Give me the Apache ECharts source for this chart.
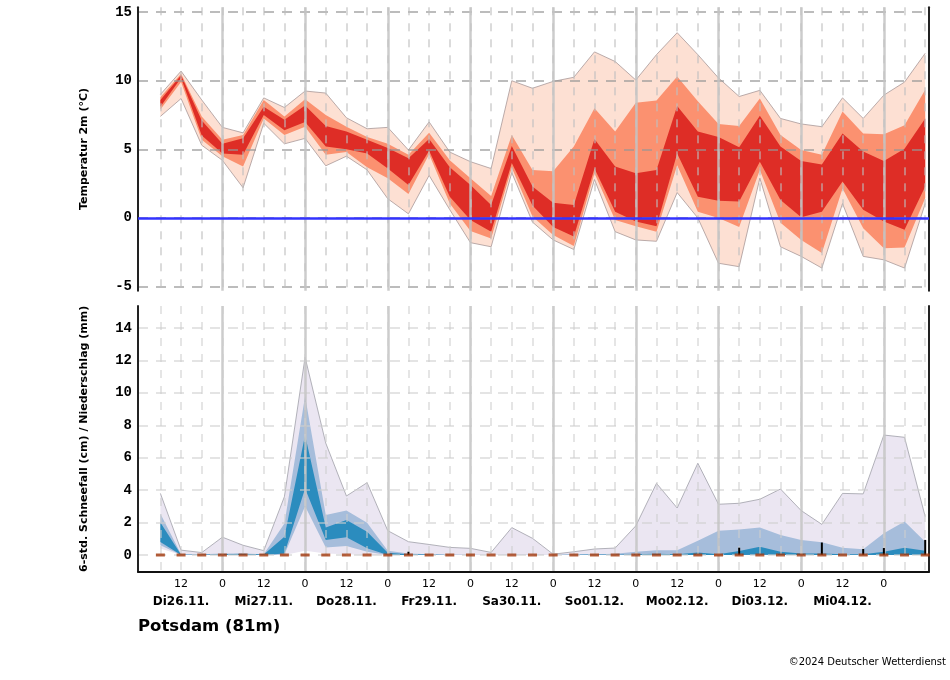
<!DOCTYPE html>
<html><head><meta charset="utf-8">
<script src="https://cdn.jsdelivr.net/npm/echarts@6/dist/echarts.min.js"></script>
<style>html,body{margin:0;padding:0;background:#fff}#c{width:950px;height:680px}</style>
</head><body><div id="c"></div>
<script>
// time steps (hours after Di26.11. 00 UTC)
const hours = [6,12,18,24,30,36,42,48,54,60,66,72,78,84,90,96,102,108,114,120,126,132,138,144,150,156,162,168,174,180,186,192,198,204,210,216,222,228];
const dayLabels = ['Di26.11.','Mi27.11.','Do28.11.','Fr29.11.','Sa30.11.','So01.12.','Mo02.12.','Di03.12.','Mi04.12.'];
const hourLabelValues = [12,24,36,48,60,72,84,96,108,120,132,144,156,168,180,192,204,216];
const dayLineValues = [24,48,72,96,120,144,168,192,216];
const tempTicks = [-5,0,5,10,15];
const precTicks = [0,2,4,6,8,10,12,14];

// temperature 2m ensemble quantiles (°C)
const tMin = [7.4,8.7,5.3,4.2,2.2,6.9,5.4,5.8,3.8,4.5,3.5,1.4,0.3,3.1,0.6,-1.8,-2.1,3.3,-0.3,-1.6,-2.3,2.8,-1.0,-1.6,-1.7,1.85,0.0,-3.3,-3.55,2.9,-2.1,-2.8,-3.65,1.05,-2.8,-3.05,-3.65,1.05];
const tQ10 = [7.9,9.9,5.7,4.5,3.75,7.25,6.05,6.65,4.6,4.8,3.7,2.9,1.75,4.65,1.05,-0.95,-1.5,3.65,0.1,-1.25,-2.05,3.25,-0.15,-0.6,-1.0,3.85,0.45,0.0,-0.65,3.5,-0.35,-1.6,-2.55,2.15,-0.75,-2.2,-2.15,1.45];
const tQ25 = [8.1,10.2,6.0,4.7,4.6,7.5,6.4,7.0,5.2,5.0,4.7,3.6,2.4,4.9,1.55,-0.15,-1.0,4.0,0.9,-0.65,-1.35,3.6,0.45,-0.25,-0.6,4.7,1.55,1.25,1.2,4.1,1.3,0.05,0.45,2.65,0.6,-0.25,-0.85,2.3];
const tQ75 = [8.6,10.4,7.1,5.4,5.8,8.1,7.15,8.2,6.7,6.3,5.7,5.1,4.35,5.75,3.7,2.4,0.95,5.25,2.3,1.1,0.95,5.75,3.75,3.25,3.5,8.15,6.3,5.9,5.15,7.45,5.2,4.15,3.9,6.15,4.85,4.15,5.05,7.25];
const tQ90 = [8.8,10.5,7.4,5.7,6.05,8.6,7.4,8.65,7.5,6.65,5.9,5.4,4.6,6.2,4.2,2.9,1.6,6.05,3.5,3.4,5.2,8.0,6.3,8.4,8.55,10.3,8.5,6.85,6.7,8.7,6.05,4.95,4.6,7.75,6.15,6.1,6.75,9.35];
const tMax = [9.0,10.7,8.6,6.6,6.2,8.75,8.05,9.25,9.1,7.3,6.5,6.6,4.95,7.0,4.8,4.1,3.6,10.0,9.45,9.95,10.25,12.1,11.4,10.05,11.9,13.5,11.9,10.2,8.85,9.3,7.25,6.85,6.65,8.75,7.25,8.95,9.9,12.0];

// 6-hourly precipitation ensemble quantiles (mm)
const pMin = [0.4,0,0,0,0,0,0,0.27,0.1,0.05,0,0,0,0,0,0,0,0,0,0,0,0,0,0,0,0,0,0,0,0,0,0,0,0,0,0,0,0];
const pQ10 = [0.6,0,0,0,0,0,0.03,3.0,0.47,0.56,0.2,0,0,0,0,0,0,0,0,0,0,0,0,0,0,0,0,0,0,0,0,0,0,0,0,0,0,0];
const pQ25 = [0.8,0,0,0,0,0,0.1,4.1,0.93,1.09,0.41,0,0,0,0,0,0,0,0,0,0,0,0,0,0,0,0,0,0,0.02,0,0,0,0,0,0,0,0];
const pQ75 = [2.0,0.02,0.02,0.05,0.07,0.03,1.13,7.4,1.7,2.16,1.44,0.14,0.05,0.03,0,0,0,0,0,0,0.02,0.03,0.02,0.05,0.07,0.05,0.15,0.05,0.25,0.51,0.2,0.1,0.1,0.05,0.05,0.2,0.45,0.27];
const pQ90 = [2.55,0.05,0.05,0.1,0.1,0.05,1.95,9.8,2.47,2.74,1.99,0.27,0.1,0.05,0.03,0.02,0,0.02,0.02,0,0.05,0.05,0.08,0.2,0.3,0.3,0.88,1.5,1.58,1.69,1.23,0.93,0.78,0.45,0.35,1.34,2.06,0.82];
const pMax = [3.8,0.3,0.15,1.1,0.6,0.27,3.6,12.2,6.9,3.64,4.46,1.5,0.82,0.65,0.47,0.41,0.16,1.69,1.03,0.05,0.2,0.37,0.43,1.8,4.42,2.9,5.66,3.13,3.19,3.44,4.07,2.74,1.89,3.8,3.77,7.4,7.26,2.37];
// 6-hourly snowfall (cm): maximum (black bars) and median (brown dashes)
const snowMax = [0,0,0,0,0,0,0,0,0,0,0,0,0.2,0,0,0,0,0,0,0,0,0,0,0,0,0,0,0,0.45,0,0,0,0.77,0,0.37,0.43,0,0.93];
const snowMed = [0,0,0,0,0,0,0,0,0,0,0,0,0,0,0,0,0,0,0,0,0,0,0,0,0,0,0,0,0,0,0,0,0,0,0,0,0,0];

const X_MIN = -0.5, X_MAX = 229.1;
const FONT = 'DejaVu Sans';

function pairs(arr){ return hours.map((h,i)=>[h, arr[i]]); }

// filled band between two quantile arrays, projected through the axes
function band(xi, yi, lo, hi, color){
  return {
    type:'custom', xAxisIndex:xi, yAxisIndex:yi, silent:true, z:2, clip:true,
    data: hours.map((h,i)=>[h, lo[i], hi[i]]),
    encode:{x:0, y:[1,2]},
    renderItem: function(params, api){
      if (params.dataIndex !== 0) return null;
      const pts = [];
      for (let i=0;i<hours.length;i++) pts.push(api.coord([hours[i], hi[i]]));
      for (let i=hours.length-1;i>=0;i--) pts.push(api.coord([hours[i], lo[i]]));
      return {type:'polygon', shape:{points:pts}, style:{fill:color, stroke:null}};
    }
  };
}
function edge(xi, yi, arr, color){
  return {type:'line', xAxisIndex:xi, yAxisIndex:yi, data:pairs(arr), symbol:'none',
    lineStyle:{color:color, width:0.8}, z:3, silent:true};
}

const gridV = 'rgba(190,190,190,0.75)';
const gridVb = 'rgba(205,205,205,0.7)';

function hourFmt(v){
  if (v % 24 === 12) { return '12\n{d|' + dayLabels[(v-12)/24] + '}'; }
  return '0';
}

const option = {
  animation:false,
  backgroundColor:'#fff',
  grid:[
    {left:138, right:21, top:7.3, height:283.4},
    {left:138, right:21, top:306, height:265.7}
  ],
  xAxis:[
    {gridIndex:0, type:'value', min:X_MIN, max:X_MAX, z:4,
     axisLine:{show:false}, axisLabel:{show:false},
     axisTick:{show:false, customValues:hours},
     splitLine:{show:true, lineStyle:{color:gridV, width:1.5, type:[8,8]}}},
    {gridIndex:0, type:'value', min:X_MIN, max:X_MAX, z:4,
     axisLine:{show:false}, axisLabel:{show:false},
     axisTick:{show:false, customValues:dayLineValues},
     splitLine:{show:true, lineStyle:{color:'rgba(195,195,195,0.85)', width:2.5}}},
    {gridIndex:1, type:'value', min:X_MIN, max:X_MAX, z:4, position:'bottom',
     axisLine:{show:true, onZero:false, lineStyle:{color:'#111', width:2}},
     axisTick:{show:false, customValues:dayLineValues},
     axisLabel:{show:true, customValues:hourLabelValues, formatter:hourFmt,
       fontFamily:FONT, fontSize:11, color:'#000', margin:5, lineHeight:14,
       rich:{d:{fontFamily:FONT, fontSize:12, fontWeight:'bold', color:'#000', lineHeight:22}}},
     splitLine:{show:true, lineStyle:{color:'rgba(195,195,195,0.85)', width:2.5}}},
    {gridIndex:1, type:'value', min:X_MIN, max:X_MAX, z:4,
     axisLine:{show:false}, axisLabel:{show:false},
     axisTick:{show:false, customValues:hours},
     splitLine:{show:true, lineStyle:{color:gridVb, width:1.5, type:[8,8]}}}
  ],
  yAxis:[
    {gridIndex:0, type:'value', min:-5.3, max:15.35, z:4, position:'left',
     name:'Temperatur 2m (°C)', nameLocation:'middle', nameGap:48, nameRotate:90,
     nameTextStyle:{fontFamily:FONT, fontSize:11, fontWeight:'bold', color:'#000'},
     axisLine:{show:true, onZero:false, lineStyle:{color:'#222', width:2}},
     axisTick:{show:false, customValues:tempTicks},
     axisLabel:{show:true, customValues:tempTicks, fontFamily:'Liberation Mono', fontWeight:'bold', fontSize:14, color:'#000', margin:6},
     splitLine:{show:true, lineStyle:{color:'rgba(150,150,150,0.85)', width:1.5, type:[10,8]}}},
    {gridIndex:0, type:'value', min:-5.3, max:15.35, position:'right', z:4,
     axisLine:{show:true, onZero:false, lineStyle:{color:'#222', width:2}},
     axisTick:{show:false}, axisLabel:{show:false}, splitLine:{show:false}},
    {gridIndex:1, type:'value', min:-1.03, max:15.36, z:4, position:'left',
     name:'6-std. Schneefall (cm) / Niederschlag (mm)', nameLocation:'middle', nameGap:48, nameRotate:90,
     nameTextStyle:{fontFamily:FONT, fontSize:11, fontWeight:'bold', color:'#000'},
     axisLine:{show:true, onZero:false, lineStyle:{color:'#222', width:2}},
     axisTick:{show:false, customValues:precTicks},
     axisLabel:{show:true, customValues:precTicks, fontFamily:'Liberation Mono', fontWeight:'bold', fontSize:14, color:'#000', margin:6},
     splitLine:{show:true, lineStyle:{color:'rgba(205,205,205,0.75)', width:1.5, type:[10,8]}}},
    {gridIndex:1, type:'value', min:-1.03, max:15.36, position:'right', z:4,
     axisLine:{show:true, onZero:false, lineStyle:{color:'#222', width:2}},
     axisTick:{show:false}, axisLabel:{show:false}, splitLine:{show:false}}
  ],
  series: [
    band(0, 0, tMin, tMax, '#fde0d3'),
    band(0, 0, tQ10, tQ90, '#fb9170'),
    band(0, 0, tQ25, tQ75, '#de2d26'),
    edge(0, 0, tMin, '#a89898'),
    edge(0, 0, tMax, '#a89898'),
    {type:'line', xAxisIndex:0, yAxisIndex:0, data:[], symbol:'none',
      markLine:{silent:true, symbol:'none', label:{show:false}, z:6,
        lineStyle:{color:'#3333ff', width:2.5, type:'solid'}, data:[{yAxis:0}]}},
    band(2, 2, pMin, pMax, '#ebe6f2'),
    band(2, 2, pQ10, pQ90, '#a6bddb'),
    band(2, 2, pQ25, pQ75, '#2b8cbe'),
    edge(2, 2, pMax, '#a0a0a8'),
    {type:'bar', xAxisIndex:2, yAxisIndex:2, data:pairs(snowMax), barWidth:2, itemStyle:{color:'#000'}, z:8, silent:true},
    {type:'scatter', xAxisIndex:2, yAxisIndex:2, data:pairs(snowMed), symbol:'rect', symbolSize:[9,3], itemStyle:{color:'#a3380c'}, z:9, silent:true}
  ],
  graphic:[
    {type:'text', left:138, top:618, style:{text:'Potsdam (81m)', fontFamily:FONT, fontSize:16.5, fontWeight:'bold', fill:'#000'}},
    {type:'text', right:4, top:657, style:{text:'©2024 Deutscher Wetterdienst', fontFamily:FONT, fontSize:10, fill:'#000'}}
  ]
};
const chart = echarts.init(document.getElementById('c'), null, {renderer:'canvas'});
chart.setOption(option);
</script></body></html>
